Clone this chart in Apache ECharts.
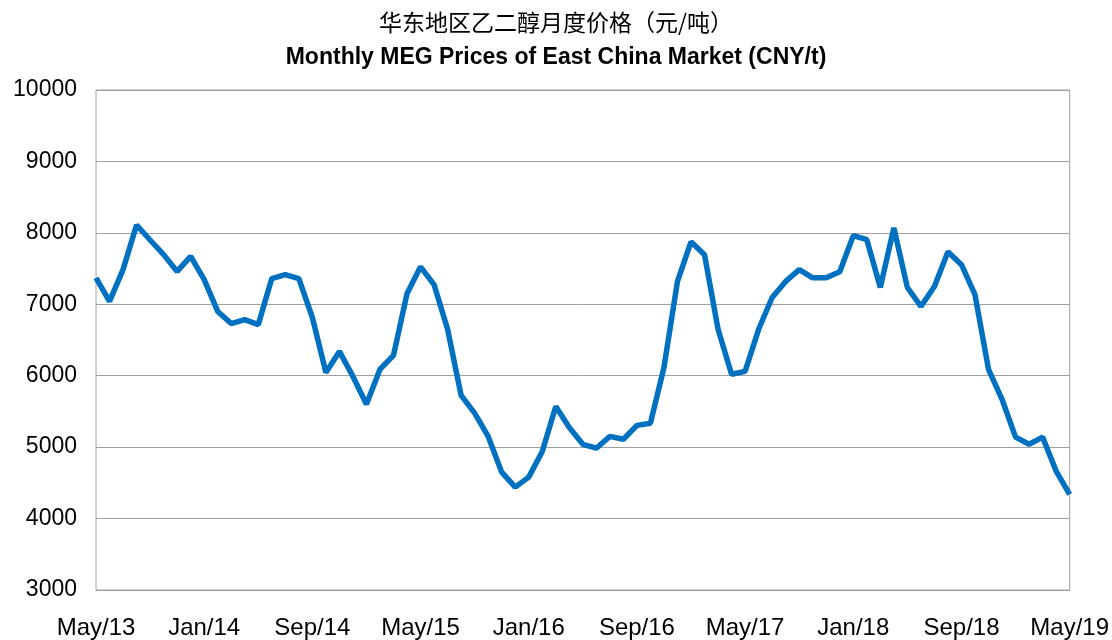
<!DOCTYPE html>
<html>
<head>
<meta charset="utf-8">
<script src="https://cdn.jsdelivr.net/npm/echarts@6/dist/echarts.min.js"></script>
<style>
  html, body { margin: 0; padding: 0; background: #fff; }
  #chart { width: 1112px; height: 640px; }
</style>
</head>
<body>
<div id="chart"></div>
<script>
// monthly prices, May 2013 .. May 2019 (CNY/t)
const years = [13, 14, 15, 16, 17, 18, 19];
const monthNames = ['Jan', 'Feb', 'Mar', 'Apr', 'May', 'Jun', 'Jul', 'Aug', 'Sep', 'Oct', 'Nov', 'Dec'];

const prices = [
  7370, 7040, 7485, 8110, 7900, 7695, 7460, 7670,       // May13 - Dec13
  7345, 6900, 6730, 6785, 6715, 7360, 7415, 7360, 6815, 6045, 6340, 5990, // 2014
  5600, 6090, 6285, 7150, 7525, 7275, 6650, 5725, 5475, 5150, 4650, 4440, // 2015
  4580, 4940, 5570, 5275, 5040, 4985, 5150, 5110, 5305, 5335, 6115, 7320, // 2016
  7875, 7695, 6650, 6020, 6060, 6650, 7095, 7320, 7485, 7370, 7370, 7455, // 2017
  7960, 7905, 7235, 8070, 7235, 6970, 7250, 7735, 7555, 7135, 6090, 5670, // 2018
  5140, 5040, 5140, 4665, 4340                                              // Jan19 - May19
];

// category labels "May/13" ... "May/19"
const months = [];
for (let i = 0; i < prices.length; i++) {
  const m = (4 + i) % 12;
  const y = years[0] + Math.floor((4 + i) / 12);
  months.push(monthNames[m] + '/' + String(y).padStart(2, '0'));
}

const chart = echarts.init(document.getElementById('chart'));

chart.setOption({
  animation: false,
  title: [
    {
      text: '华东地区乙二醇月度价格（元/吨）',
      left: 'center',
      top: 6,
      textStyle: {
        fontFamily: 'Noto Sans CJK SC',
        fontSize: 23,
        fontWeight: 'normal',
        color: '#000'
      }
    },
    {
      text: 'Monthly MEG Prices of East China Market (CNY/t)',
      left: 'center',
      top: 41,
      textStyle: {
        fontFamily: 'Liberation Sans, Arial',
        fontSize: 23,
        fontWeight: 'bold',
        color: '#000'
      }
    }
  ],
  grid: {
    left: 96,
    right: 41,
    top: 90,
    bottom: 49,
    show: true,
    borderColor: '#a0a0a0',
    borderWidth: 1
  },
  xAxis: {
    type: 'category',
    data: months,
    boundaryGap: false,
    axisLine: { lineStyle: { color: '#a0a0a0' } },
    axisTick: { show: false },
    axisLabel: {
      interval: 7,
      margin: 26,
      fontFamily: 'Liberation Sans, Arial',
      fontSize: 24,
      color: '#000'
    }
  },
  yAxis: {
    type: 'value',
    min: 3000,
    max: 10000,
    interval: 1000,
    axisLine: { show: false },
    axisTick: { show: false },
    splitLine: { lineStyle: { color: '#a0a0a0', width: 1 } },
    axisLabel: {
      margin: 19,
      padding: [6, 0, 0, 0],
      fontFamily: 'Liberation Sans, Arial',
      fontSize: 23,
      color: '#000',
      formatter: (v) => String(v)
    }
  },
  series: [
    {
      type: 'line',
      data: prices,
      symbol: 'none',
      lineStyle: { color: '#0070c0', width: 5.5 }
    }
  ]
});
</script>
</body>
</html>
